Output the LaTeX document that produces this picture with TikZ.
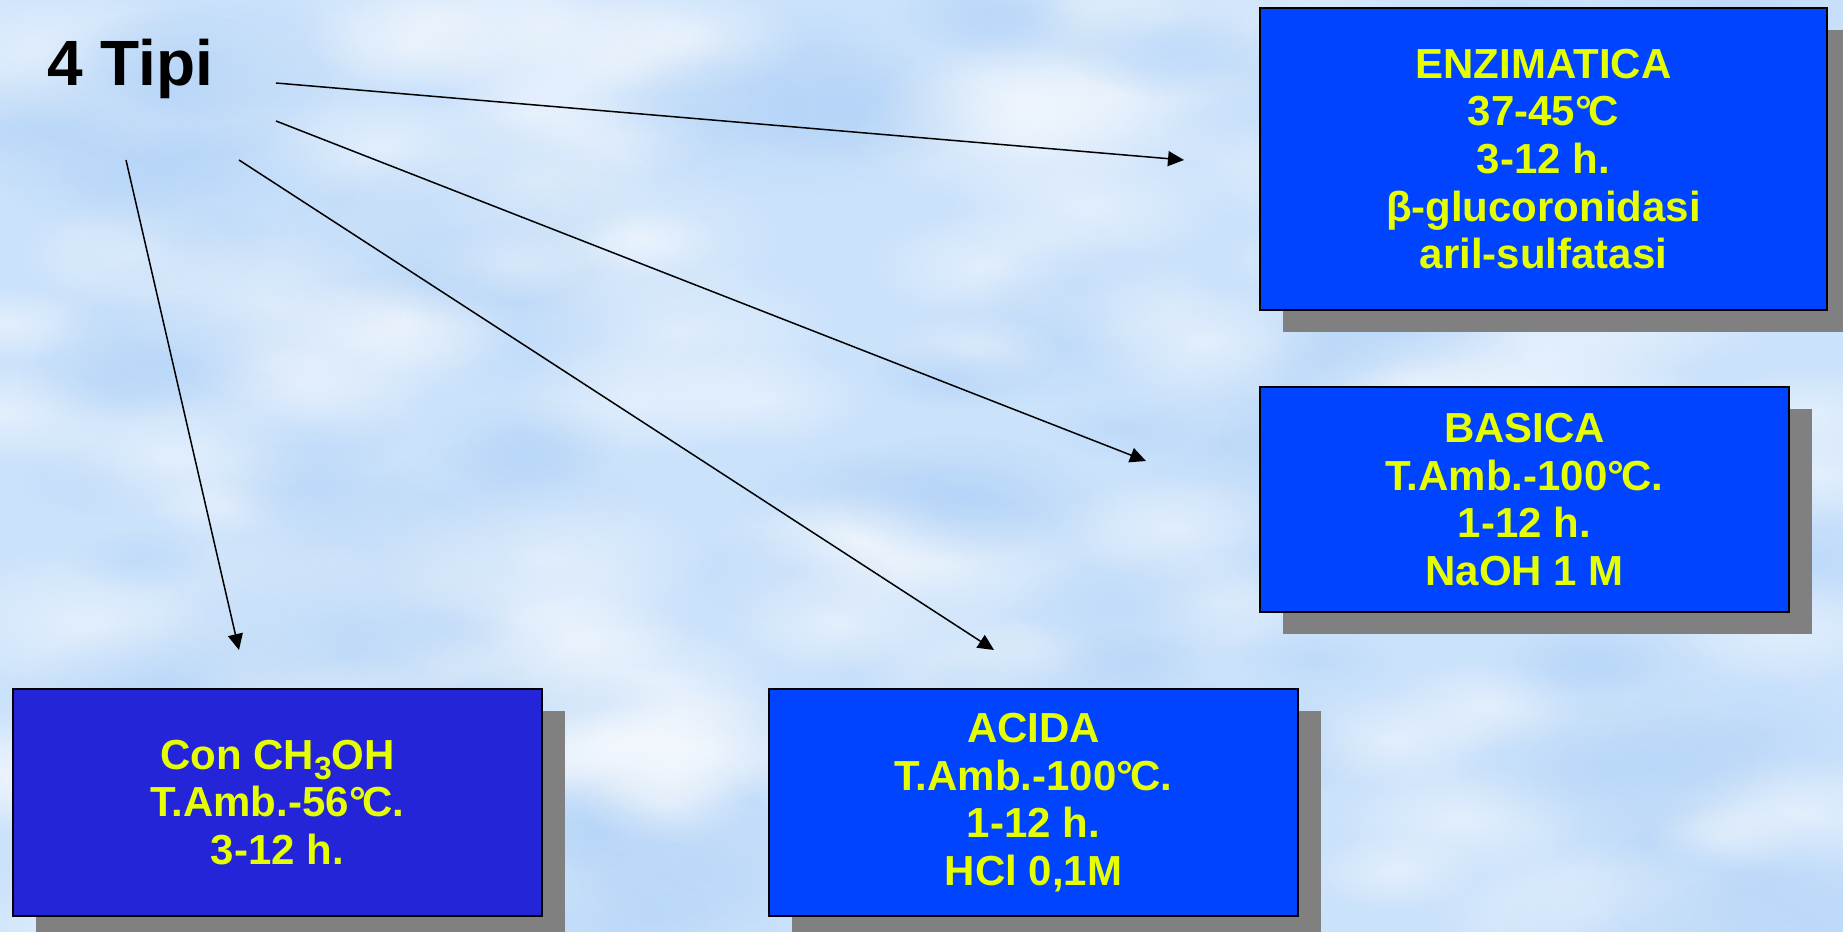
\documentclass[tikz,border=0pt]{standalone}
\usepackage{fontspec}
\setmainfont{Liberation Sans}
\usetikzlibrary{arrows.meta}
\usetikzlibrary{shadows}
\usetikzlibrary{fadings}
\definecolor{sky}{RGB}{203,226,251}
\definecolor{skydark}{RGB}{176,210,248}
\definecolor{mblue}{RGB}{0,68,255}
\definecolor{mviolet}{RGB}{36,36,216}
\definecolor{myellow}{RGB}{230,255,0}
\definecolor{mgray}{RGB}{128,128,128}
\tikzfading[name=puff, inner color=transparent!55, outer color=transparent!100]
\tikzset{tipo/.style = {draw=black, line width=1pt, fill=mblue, text=myellow, align=center,
                        inner sep=0pt, font=\fontsize{21}{23.8}\selectfont\bfseries,
                        drop shadow={shadow xshift=11.5pt, shadow yshift=-11pt,
                                     fill=mgray, opacity=1}},
         freccia/.style = {-{Triangle[length=8pt, width=7.5pt]}, line width=0.75pt}}
\newcommand{\gradi}{°\kern-0.08em C}

\begin{document}
\begin{tikzpicture}[x=0.5pt, y=-0.5pt]
      \useasboundingbox (0,0) rectangle (1843,932);
      \fill [sky] (0,0) rectangle (1843,932);
      \pgfmathsetseed{31}
      \foreach \i in {1,...,220}
        {\pgfmathsetmacro{\cx}{rnd*1843}
         \pgfmathsetmacro{\cy}{rnd*932}
         \pgfmathsetmacro{\rx}{35+rnd*55}
         \ifodd\i \def\puffcol{white}\else \def\puffcol{skydark}\fi
         \fill [\puffcol, path fading=puff] (\cx,\cy) ellipse [x radius=\rx pt, y radius=0.45*\rx pt];}

      \node [font=\fontsize{32}{32}\selectfont\bfseries, anchor=base west, inner sep=0pt] (tipi) at (47,85) {4 Tipi};

      \node [tipo, minimum width=283.5pt, minimum height=151pt] (enz) at (1543.5,159)
            {ENZIMATICA\\37-45\gradi\\3-12 h.\\β-glucoronidasi\\aril-sulfatasi};
      \node [tipo, minimum width=264.5pt, minimum height=112.5pt] (bas) at (1524.5,499.5)
            {BASICA\\T.Amb.-100\gradi.\\1-12 h.\\NaOH 1 M};
      \node [tipo, fill=mviolet, minimum width=264.5pt, minimum height=113.5pt] (con) at (277.5,802.5)
            {Con CH\raisebox{-5pt}{\fontsize{16}{16}\selectfont 3}OH\\T.Amb.-56\gradi.\\3-12 h.};
      \node [tipo, minimum width=264.5pt, minimum height=113.5pt] (aci) at (1033.5,802.5)
            {ACIDA\\T.Amb.-100\gradi.\\1-12 h.\\HCl 0,1M};

      \coordinate (s1) at (276,83);  \coordinate (e1) at (1184,160);
      \coordinate (s2) at (276,121); \coordinate (e2) at (1146,461);
      \coordinate (s3) at (239,160); \coordinate (e3) at (994,650);
      \coordinate (s4) at (126,160); \coordinate (e4) at (239,650);

      \draw [freccia] (s1) -- (e1);
      \draw [freccia] (s2) -- (e2);
      \draw [freccia] (s3) -- (e3);
      \draw [freccia] (s4) -- (e4);
    \end{tikzpicture}
\end{document}
